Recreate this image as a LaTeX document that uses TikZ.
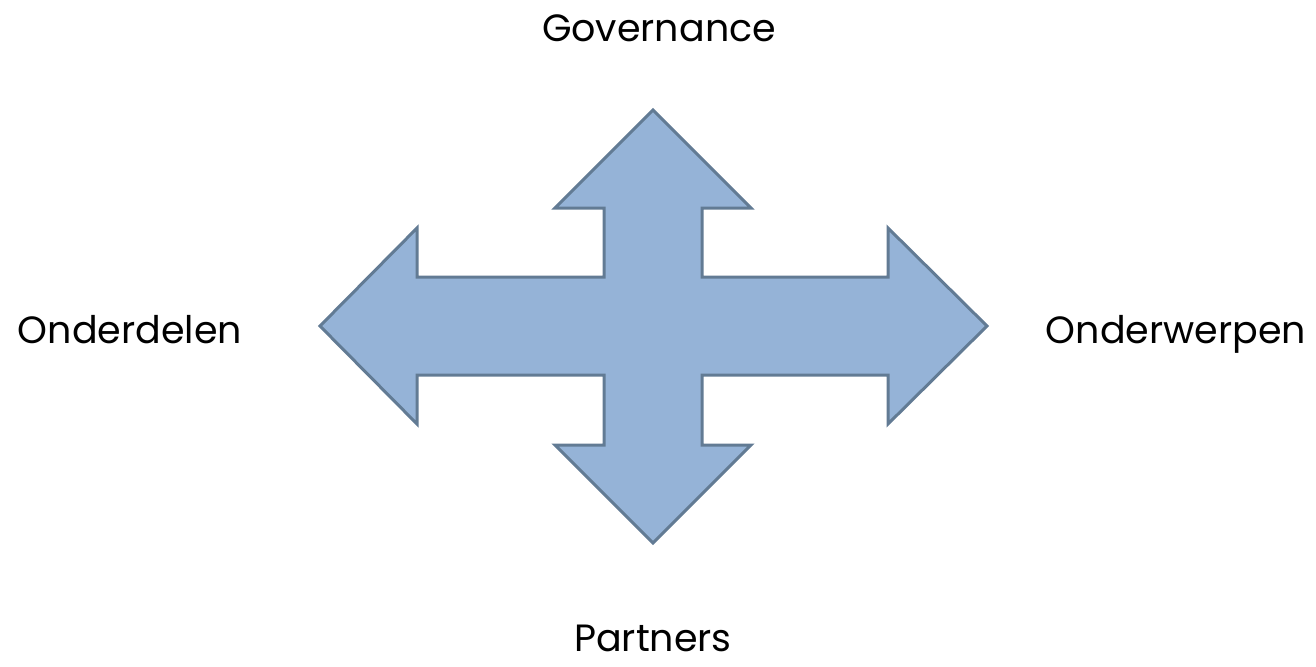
\documentclass[tikz,border=0pt]{standalone}
\usepackage{fontspec}
\setmainfont{Poppins}
\usepackage{tikz}
\usetikzlibrary{calc}

\definecolor{arrowfill}{RGB}{149,179,215}
\definecolor{arrowline}{RGB}{98,123,148}

\begin{document}
\begin{tikzpicture}[x=0.5pt, y=-0.5pt,
        label_style/.style={anchor=base, inner sep=0pt, font=\fontsize{19}{22}\selectfont},
        arrow_style/.style={draw=arrowline, fill=arrowfill, line width=1.5pt, line join=miter}]

        \useasboundingbox (0,0) rectangle (1316,666);

        % the four-way arrow
        \draw [arrow_style] (653,110) -- (751,208) -- (702,208) -- (702,277)
            -- (888,277) -- (888,228) -- (987,326) -- (888,424) -- (888,375)
            -- (702,375) -- (702,445) -- (751,445) -- (653,543) -- (555,445)
            -- (604,445) -- (604,375) -- (417,375) -- (417,424) -- (320,326)
            -- (417,228) -- (417,277) -- (604,277) -- (604,208) -- (555,208) -- cycle;

        \node [label_style](n1) at (659,41) {Governance};

        \node [label_style](n2) at (130,343) {Onderdelen};

        \node [label_style](n3) at (1176,343) {Onderwerpen};

        \node [label_style](n4) at (653,651) {Partners};

        \end{tikzpicture}
\end{document}
